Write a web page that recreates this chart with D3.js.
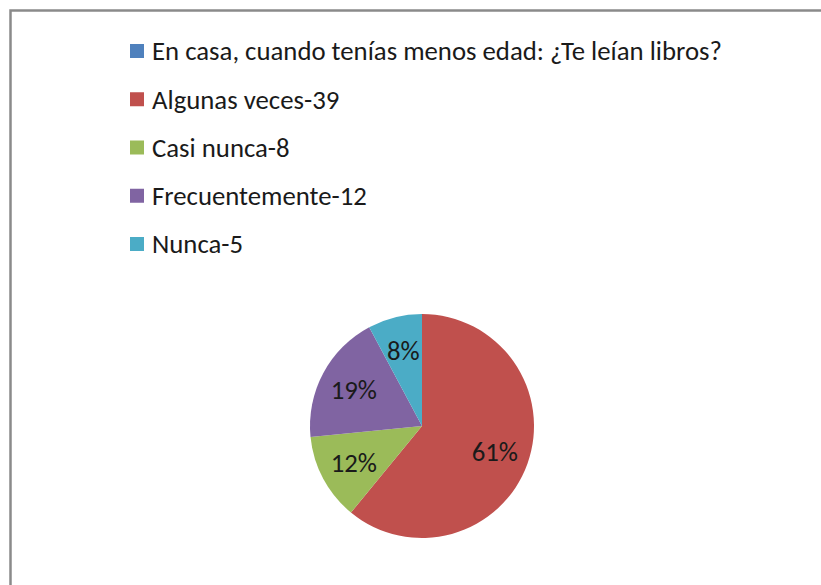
<!DOCTYPE html>
<html>
<head>
<meta charset="utf-8">
<script src="https://cdn.jsdelivr.net/npm/d3@7"></script>
<style>
  body { margin: 0; background: #fff; }
  svg { display: block; }
</style>
</head>
<body>
<svg></svg>
<script>
const width = 821, height = 585;

const categories = ["En casa, cuando tenías menos edad: ¿Te leían libros?", "Algunas veces-39", "Casi nunca-8", "Frecuentemente-12", "Nunca-5"];
const values = [0, 39, 8, 12, 5];
const percentLabels = ["", "61%", "12%", "19%", "8%"];
const colors = ["#4F81BD", "#C0504D", "#9BBB59", "#8064A2", "#4BACC6"];

const fontFam = "Carlito, 'Open Sans', 'Liberation Sans', sans-serif";

const svg = d3.select("svg")
    .attr("width", width)
    .attr("height", height);

svg.append("rect")
    .attr("width", width).attr("height", height)
    .attr("fill", "#fff");

// chart frame (cut off at right and bottom)
svg.append("rect")
    .attr("x", 10.5).attr("y", 10.5)
    .attr("width", width + 20).attr("height", height + 20)
    .attr("fill", "none")
    .attr("stroke", "#8a8a8a")
    .attr("stroke-width", 2.5);

// size the font so the long legend entry spans like the original (~570px)
const probe = svg.append("text")
    .attr("font-family", fontFam)
    .attr("font-size", 20)
    .text(categories[0]);
const fontSize = 20 * 570 / probe.node().getComputedTextLength();
probe.remove();

// legend
const legend = svg.append("g");
const rowY = d3.scaleLinear().domain([0, categories.length - 1]).range([51, 244]);
const items = legend.selectAll("g")
    .data(categories)
  .enter().append("g")
    .attr("transform", (d, i) => "translate(130," + rowY(i) + ")");
items.append("rect")
    .attr("x", 0).attr("y", -7)
    .attr("width", 14).attr("height", 14)
    .attr("fill", (d, i) => colors[i]);
items.append("text")
    .attr("x", 22).attr("y", 0)
    .attr("dy", "0.35em")
    .attr("font-family", fontFam)
    .attr("font-size", fontSize)
    .attr("fill", "#1a1a1a")
    .text(d => d);

// pie
const cx = 422, cy = 426, r = 112;
const pie = d3.pie().sort(null).value(d => d);
const arcs = pie(values);
const arc = d3.arc().innerRadius(0).outerRadius(r);
const labelArc = d3.arc().innerRadius(r * 0.5).outerRadius(r * 0.88);

const g = svg.append("g").attr("transform", "translate(" + cx + "," + cy + ")");
g.selectAll("path")
    .data(arcs)
  .enter().append("path")
    .attr("d", arc)
    .attr("fill", (d, i) => colors[i]);

g.selectAll("text")
    .data(arcs.filter(d => d.data > 0))
  .enter().append("text")
    .attr("transform", d => "translate(" + labelArc.centroid(d) + ")")
    .attr("text-anchor", "middle")
    .attr("dy", "0.35em")
    .attr("font-family", fontFam)
    .attr("font-size", fontSize)
    .attr("fill", "#1a1a1a")
    .text(d => percentLabels[d.index]);
</script>
</body>
</html>
